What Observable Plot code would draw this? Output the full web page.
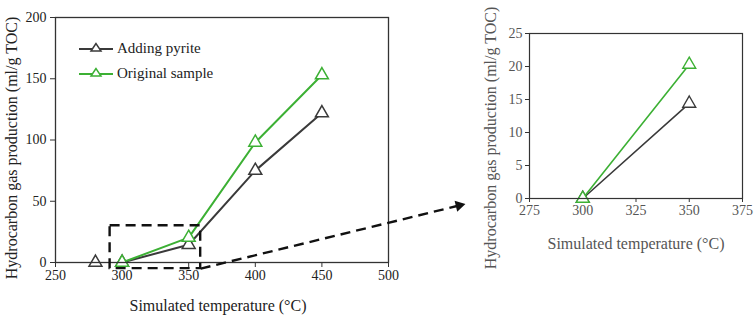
<!DOCTYPE html>
<html><head><meta charset="utf-8">
<script src="https://cdn.jsdelivr.net/npm/d3@7"></script>
<script src="https://cdn.jsdelivr.net/npm/@observablehq/plot@0.6"></script>
<style>
body{margin:0;background:#fff;}
#wrap{position:relative;width:754px;height:316px;font-family:'Liberation Serif','Times New Roman',Tinos,'DejaVu Serif',serif;overflow:hidden;}
#wrap svg, #wrap svg text{font-family:'Liberation Serif','Times New Roman',Tinos,'DejaVu Serif',serif !important;}
#left,#inset{position:absolute;top:0;}
#left{left:0}
#inset{left:470px}
.leg{position:absolute;left:79px;font-size:15px;color:#222;display:flex;align-items:center;height:20px;white-space:nowrap;font-family:'Liberation Serif','Times New Roman',serif}
.leg svg{margin-right:4px}
</style></head><body>
<div id="wrap"><div id="left"></div><div id="inset"></div><div id="legend"></div></div>
<script>
// ---- data ----
const temps = [300, 350, 400, 450];
const pyrite = [0, 14.5, 75, 122];
const original = [0, 20.3, 98, 153];
const strayTemps = [280];
const strayPyrite = [0];
const insetTemps = [300, 350];
const insetPyrite = [0, 14.4];
const insetOriginal = [0, 20.3];
const seriesNames = ["Adding pyrite", "Original sample"];
const colors = ["#3a3a3a", "#3cb034"];
const xTicksMain = [250, 300, 350, 400, 450, 500];
const yTicksMain = [0, 50, 100, 150, 200];
const xTicksInset = [275, 300, 325, 350, 375];
const yTicksInset = [0, 5, 10, 15, 20, 25];
const xLabel = "Simulated temperature (°C)";
const yLabel = "Hydrocarbon gas production (ml/g TOC)";
const zoomBoxX = [291, 359];
const zoomBoxY = [-5, 30];
const arrowX = [359, 553];
const arrowY = [-5, 46.5];

const font = "Liberation Serif, Times New Roman, Tinos, DejaVu Serif, serif";
const toRows = (xs, ys, name) => xs.map((x, i) => ({x, y: ys[i], s: name}));
const mainP = toRows(temps, pyrite, seriesNames[0]);
const mainO = toRows(temps, original, seriesNames[1]);
const stray = toRows(strayTemps, strayPyrite, seriesNames[0]);
const insP = toRows(insetTemps, insetPyrite, seriesNames[0]);
const insO = toRows(insetTemps, insetOriginal, seriesNames[1]);
const box = [{x1: zoomBoxX[0], x2: zoomBoxX[1], y1: zoomBoxY[0], y2: zoomBoxY[1]}];
const arrow = [{x1: arrowX[0], y1: arrowY[0], x2: arrowX[1], y2: arrowY[1]}];

const left = Plot.plot({
  width: 470, height: 316,
  marginLeft: 55, marginRight: 82, marginTop: 17, marginBottom: 54,
  style: {fontFamily: font, fontSize: "14px", color: "#222", background: "transparent", overflow: "visible"},
  x: {domain: [250, 500]},
  y: {domain: [0, 200]},
  marks: [
    Plot.axisX({ticks: xTicksMain, tickSize: 5, tickPadding: 3, label: null, stroke: "#333", fontSize: 14, fontFamily: font}),
    Plot.axisY({ticks: yTicksMain, tickSize: 5, tickPadding: 4, label: null, stroke: "#333", fontSize: 14, fontFamily: font}),
    Plot.line(mainP, {x: "x", y: "y", stroke: colors[0], strokeWidth: 2}),
    Plot.dot(mainP, {x: "x", y: "y", symbol: "triangle", r: 4.8, stroke: colors[0], fill: "white", strokeWidth: 1.5}),
    Plot.dot(stray, {x: "x", y: "y", symbol: "triangle", r: 4.8, stroke: colors[0], fill: "white", strokeWidth: 1.5}),
    Plot.line(mainO, {x: "x", y: "y", stroke: colors[1], strokeWidth: 2}),
    Plot.dot(mainO, {x: "x", y: "y", symbol: "triangle", r: 4.8, stroke: colors[1], fill: "white", strokeWidth: 1.5}),
    Plot.frame({stroke: "#333", strokeWidth: 1.3}),
    Plot.rect(box, {x1: "x1", x2: "x2", y1: "y1", y2: "y2", fill: "none", stroke: "#111", strokeWidth: 2.4, strokeDasharray: "10,6"}),
    Plot.link(arrow, {x1: "x1", y1: "y1", x2: "x2", y2: "y2", stroke: "#111", strokeWidth: 2.4, strokeDasharray: "10,6"}),
    Plot.dot(arrow, {x: "x2", y: "y2", symbol: "triangle2", r: 5.4, fill: "#111", stroke: "none", rotate: 76.5}),
    Plot.text([xLabel], {text: d => d, frameAnchor: "bottom", textAnchor: "middle", lineAnchor: "middle", dy: 43, dx: -4, fontSize: 16, fill: "#222", fontFamily: font}),
    Plot.text([yLabel], {text: d => d, frameAnchor: "left", textAnchor: "middle", lineAnchor: "middle", dx: -44, dy: 8, rotate: -90, fontSize: 16, fill: "#222", fontFamily: font})
  ]
});
document.getElementById("left").append(left);

const inset = Plot.plot({
  width: 284, height: 316,
  marginLeft: 59, marginRight: 12, marginTop: 33, marginBottom: 118,
  style: {fontFamily: font, fontSize: "14px", color: "#555", background: "transparent", overflow: "visible"},
  x: {domain: [275, 375]},
  y: {domain: [0, 25]},
  marks: [
    Plot.axisX({ticks: xTicksInset, tickSize: 4, tickPadding: 3, label: null, stroke: "#333", fontSize: 14, fontFamily: font}),
    Plot.axisY({ticks: yTicksInset, tickSize: 4, tickPadding: 3, label: null, stroke: "#333", fontSize: 14, fontFamily: font}),
    Plot.line(insP, {x: "x", y: "y", stroke: colors[0], strokeWidth: 1.6}),
    Plot.dot(insP, {x: "x", y: "y", symbol: "triangle", r: 4.8, stroke: colors[0], fill: "white", strokeWidth: 1.4}),
    Plot.line(insO, {x: "x", y: "y", stroke: colors[1], strokeWidth: 1.6}),
    Plot.dot(insO, {x: "x", y: "y", symbol: "triangle", r: 4.8, stroke: colors[1], fill: "white", strokeWidth: 1.4}),
    Plot.frame({stroke: "#333", strokeWidth: 1.2}),
    Plot.text([xLabel], {text: d => d, frameAnchor: "bottom", textAnchor: "middle", lineAnchor: "middle", dy: 45, fontSize: 16, fill: "#555", fontFamily: font}),
    Plot.text([yLabel], {text: d => d, frameAnchor: "left", textAnchor: "middle", lineAnchor: "middle", dx: -39, dy: 22, rotate: -90, fontSize: 16, fill: "#555", fontFamily: font})
  ]
});
document.getElementById("inset").append(inset);

// legend
const legend = document.getElementById("legend");
seriesNames.forEach((name, i) => {
  const div = document.createElement("div");
  div.className = "leg";
  div.style.top = (38 + i * 25) + "px";
  div.innerHTML = `<svg width="34" height="20"><line x1="0" x2="34" y1="11" y2="11" stroke="${colors[i]}" stroke-width="2.2"/><path d="M17,5.5 L12,13 L22,13 Z" fill="white" stroke="${colors[i]}" stroke-width="1.5"/></svg><span>${name}</span>`;
  legend.append(div);
});
</script>
</body></html>
